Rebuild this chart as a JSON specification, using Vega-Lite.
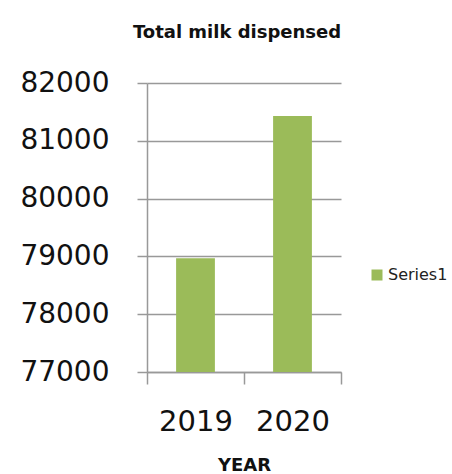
{
  "$schema": "https://vega.github.io/schema/vega-lite/v6.json",
  "width": 194,
  "height": 289,
  "autosize": {"type": "none"},
  "padding": {"left": 147, "top": 83, "right": 111, "bottom": 102},
  "background": "white",
  "title": {
    "text": "Total milk dispensed",
    "font": "DejaVu Sans",
    "fontSize": 18,
    "fontWeight": "bold",
    "color": "#111111",
    "anchor": "middle",
    "dx": -7,
    "offset": 27
  },
  "data": {
    "values": [
      {"year": "2019", "milk": 78970, "series": "Series1"},
      {"year": "2020", "milk": 81430, "series": "Series1"}
    ]
  },
  "mark": {"type": "bar", "width": {"band": 0.4}},
  "encoding": {
    "x": {
      "field": "year",
      "type": "ordinal",
      "scale": {"paddingInner": 0, "paddingOuter": 0},
      "axis": {
        "title": "YEAR",
        "titleFont": "DejaVu Sans",
        "titleFontSize": 18,
        "titleFontWeight": "bold",
        "titleColor": "#111111",
        "titlePadding": 20,
        "tickBand": "extent",
        "grid": false,
        "labelAngle": 0,
        "labelFont": "DejaVu Sans",
        "labelFontSize": 29,
        "labelColor": "#111111",
        "labelPadding": 23,
        "tickSize": 12,
        "tickColor": "#999999",
        "tickWidth": 1.5,
        "domainColor": "#999999",
        "domainWidth": 1.5
      }
    },
    "y": {
      "field": "milk",
      "type": "quantitative",
      "scale": {"domain": [77000, 82000], "nice": false, "zero": false, "clamp": true},
      "axis": {
        "title": null,
        "values": [77000, 78000, 79000, 80000, 81000, 82000],
        "format": "d",
        "labelFont": "DejaVu Sans",
        "labelFontSize": 28,
        "labelColor": "#111111",
        "labelPadding": 28,
        "tickSize": 10,
        "tickColor": "#999999",
        "tickWidth": 1.5,
        "domainColor": "#999999",
        "domainWidth": 1.5,
        "grid": true,
        "gridColor": "#999999",
        "gridWidth": 1.5
      }
    },
    "color": {
      "field": "series",
      "type": "nominal",
      "scale": {"range": ["#9BBB59"]},
      "legend": {
        "title": null,
        "orient": "none",
        "legendX": 222,
        "legendY": 184,
        "symbolType": "square",
        "symbolSize": 121,
        "symbolStrokeWidth": 0,
        "labelFont": "DejaVu Sans",
        "labelFontSize": 16,
        "labelColor": "#222222",
        "labelOffset": 3
      }
    }
  },
  "config": {"view": {"stroke": null}}
}
